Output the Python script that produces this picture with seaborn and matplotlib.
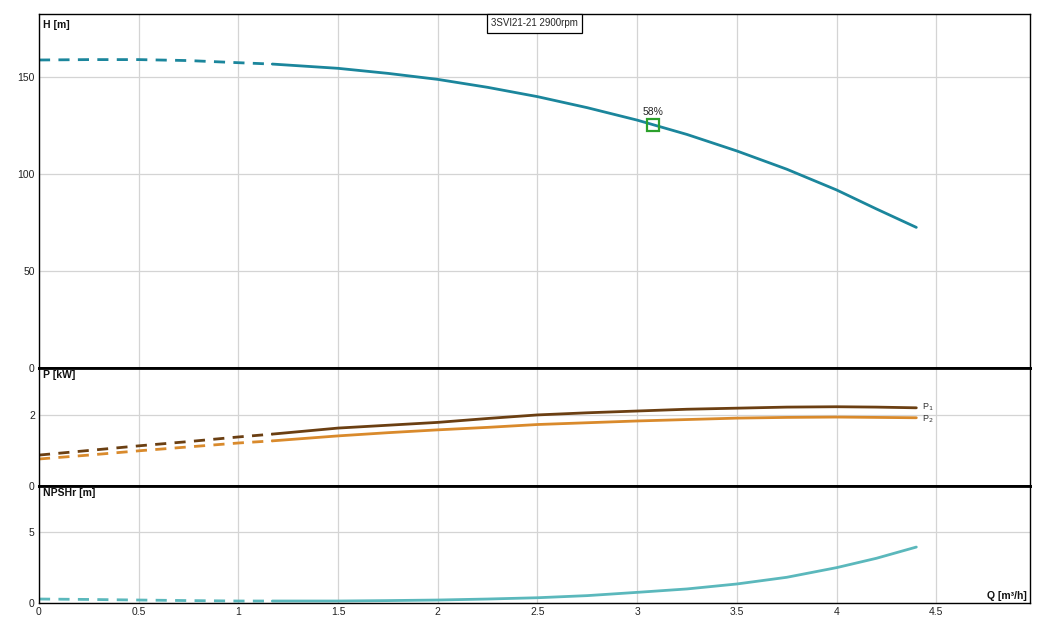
import numpy as np
import pandas as pd
import matplotlib
matplotlib.use("Agg")
import matplotlib.pyplot as plt
import seaborn as sns

# flow points (m3/h)
q = [0.0, 0.25, 0.5, 0.75, 1.0, 1.17, 1.5, 1.75, 2.0, 2.25, 2.5, 2.75,
     3.0, 3.25, 3.5, 3.75, 4.0, 4.2, 4.4]
head = [158.8, 159.0, 159.0, 158.5, 157.4, 156.7, 154.5, 151.9, 148.8, 144.7,
        139.9, 134.2, 127.8, 120.4, 111.9, 102.5, 91.8, 82.0, 72.5]
p1 = [0.87, 1.00, 1.13, 1.25, 1.38, 1.46, 1.63, 1.71, 1.79, 1.90, 2.00, 2.06,
      2.11, 2.16, 2.19, 2.22, 2.23, 2.22, 2.20]
p2 = [0.76, 0.87, 0.99, 1.10, 1.21, 1.27, 1.41, 1.50, 1.58, 1.65, 1.73, 1.78,
      1.83, 1.87, 1.91, 1.93, 1.94, 1.93, 1.92]
npshr = [0.28, 0.25, 0.21, 0.17, 0.14, 0.14, 0.14, 0.17, 0.21, 0.28, 0.37, 0.52,
         0.75, 0.99, 1.34, 1.81, 2.49, 3.15, 3.94]
q_split = 1.17  # below this the curves are dashed

duty_q = 3.08
duty_h = 125.4
duty_label = "58%"
title = "3SVI21-21 2900rpm"

x_ticks = [0, 0.5, 1, 1.5, 2, 2.5, 3, 3.5, 4, 4.5]

df = pd.DataFrame({"Q": q, "H": head, "P1": p1, "P2": p2, "NPSHr": npshr})
dashed = df[df["Q"] <= q_split]
solid = df[df["Q"] >= q_split]

sns.set_theme(style="whitegrid")
plt.rcParams["font.family"] = ["Liberation Sans", "DejaVu Sans"]

fig = plt.figure(figsize=(10.51, 6.23), dpi=100)
gs = fig.add_gridspec(3, 1, height_ratios=[354, 118, 117], hspace=0,
                      left=0.0371, right=0.980, top=0.9775, bottom=0.0321)
ax_h = fig.add_subplot(gs[0])
ax_p = fig.add_subplot(gs[1], sharex=ax_h)
ax_n = fig.add_subplot(gs[2], sharex=ax_h)

c_h = "#1b869c"
c_p1 = "#6b3f12"
c_p2 = "#d98a2c"
c_n = "#5bb8bc"

def draw(ax, col, color):
    sns.lineplot(data=dashed, x="Q", y=col, ax=ax, color=color, lw=2,
                 linestyle=(0, (4, 3)))
    sns.lineplot(data=solid, x="Q", y=col, ax=ax, color=color, lw=2)

draw(ax_h, "H", c_h)
draw(ax_p, "P1", c_p1)
draw(ax_p, "P2", c_p2)
draw(ax_n, "NPSHr", c_n)

ax_h.plot(duty_q, duty_h, marker="s", ms=8, mfc="none", mec="#2ca02c", mew=1.6)
ax_h.text(duty_q, duty_h + 4, duty_label, fontsize=7.5, ha="center", va="bottom")

ax_p.text(solid["Q"].iloc[-1] + 0.03, solid["P1"].iloc[-1] + 0.02, "P$_1$",
          fontsize=6.5, va="center", color="#333333")
ax_p.text(solid["Q"].iloc[-1] + 0.03, solid["P2"].iloc[-1] - 0.04, "P$_2$",
          fontsize=6.5, va="center", color="#333333")

ax_h.set_ylim(0, 182.5)
ax_p.set_ylim(0, 3.32)
ax_n.set_ylim(0, 8.24)
ax_h.set_yticks([0, 50, 100, 150])
ax_p.set_yticks([0, 2])
ax_n.set_yticks([0, 5])
ax_h.set_xlim(0, 4.97)
ax_n.set_xticks(x_ticks)
ax_n.set_xticklabels([f"{t:g}" for t in x_ticks])

labels = {ax_h: "H [m]", ax_p: "P [kW]", ax_n: "NPSHr [m]"}
for ax in (ax_h, ax_p, ax_n):
    ax.set_xlabel("")
    ax.set_ylabel("")
    ax.grid(True, color="#d4d4d4", lw=0.9)
    ax.tick_params(axis="both", labelsize=7.5, length=0, pad=3, colors="#222222")
    for s in ax.spines.values():
        s.set_color("black")
        s.set_linewidth(1)
    ax.text(0.004, 0.982, labels[ax], transform=ax.transAxes, fontsize=7.5,
            fontweight="bold", ha="left", va="top", color="#111111")

ax_h.tick_params(axis="x", labelbottom=False)
ax_p.tick_params(axis="x", labelbottom=False)
ax_h.spines["bottom"].set_linewidth(2)
ax_p.spines["top"].set_linewidth(2)
ax_p.spines["bottom"].set_linewidth(2)
ax_n.spines["top"].set_linewidth(2)

ax_n.text(0.997, 0.015, "Q [m³/h]", transform=ax_n.transAxes, fontsize=7.5,
          fontweight="bold", ha="right", va="bottom", color="#111111")

ax_h.text(0.5, 0.988, title, transform=ax_h.transAxes, fontsize=7,
          ha="center", va="top",
          bbox=dict(boxstyle="square,pad=0.45", fc="white", ec="black", lw=0.9))

fig.savefig("out.png", dpi=100)
